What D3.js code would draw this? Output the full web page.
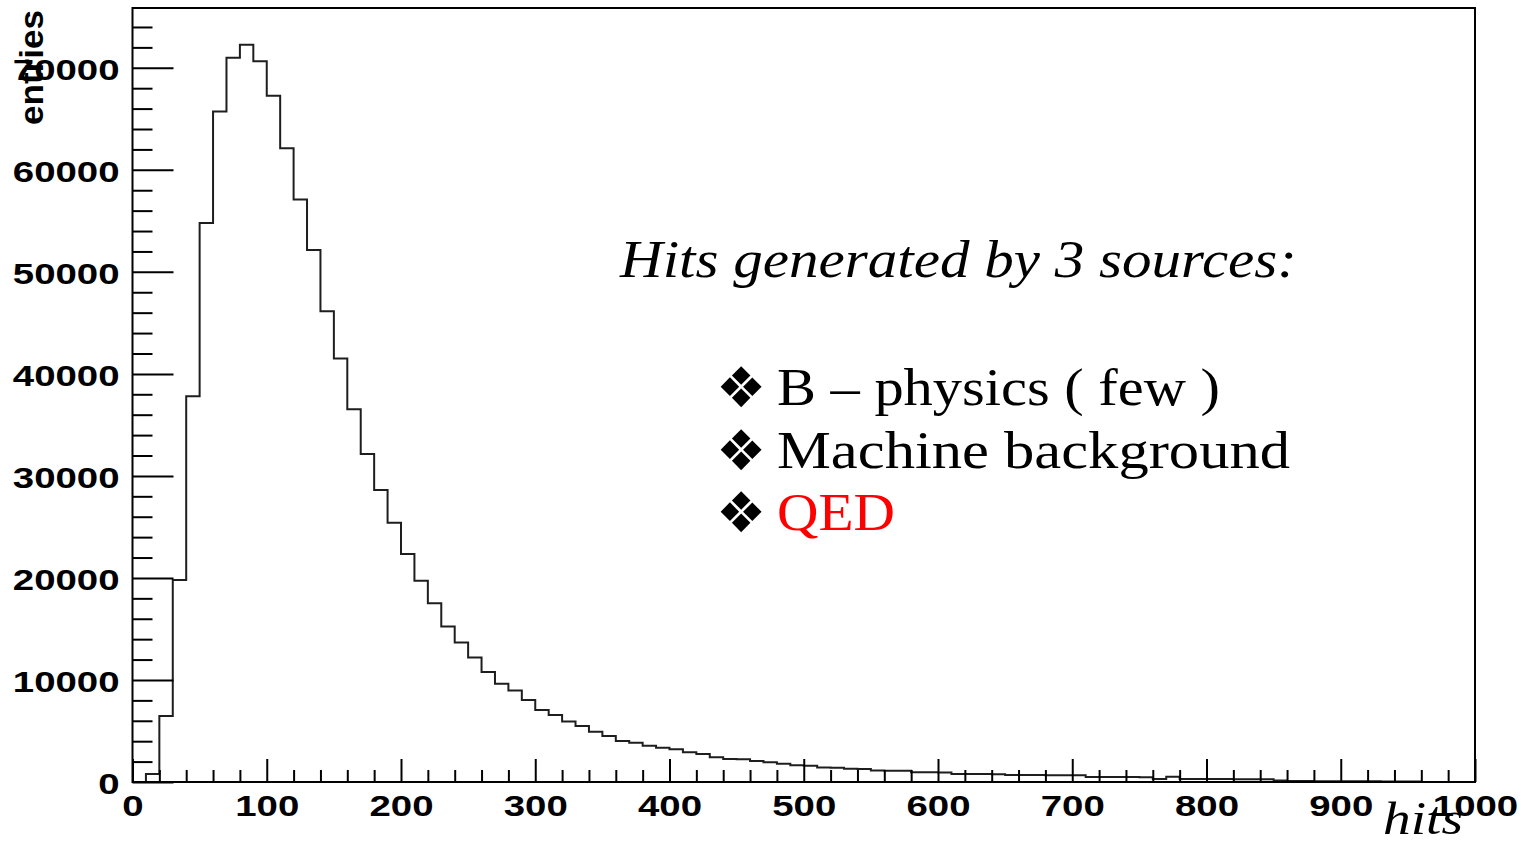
<!DOCTYPE html>
<html>
<head>
<meta charset="utf-8">
<script src="https://cdn.jsdelivr.net/npm/d3@7"></script>
<style>
  html, body { margin: 0; padding: 0; background: #ffffff; }
  svg { display: block; }
</style>
</head>
<body>
<svg id="chart" width="1521" height="842"></svg>
<script>
// ---- data (bins of width 10 hits) ----
const binLow = [0,10,20,30,40,50,60,70,80,90,
  100,110,120,130,140,150,160,170,180,190,
  200,210,220,230,240,250,260,270,280,290,
  300,310,320,330,340,350,360,370,380,390,
  400,410,420,430,440,450,460,470,480,490,
  500,510,520,530,540,550,560,570,580,590,
  600,610,620,630,640,650,660,670,680,690,
  700,710,720,730,740,750,760,770,780,790,
  800,810,820,830,840,850,860,870,880,890,
  900,910,920,930,940,950];
const binWidth = 10;
const entries = [0,780,6460,19800,37800,54780,65720,70980,72250,70650,
  67260,62120,57100,52140,46150,41500,36530,32150,28630,25400,
  22350,19720,17520,15250,13680,12210,10770,9630,8980,8030,
  7050,6560,5940,5480,4930,4510,4020,3850,3560,3360,
  3200,2910,2740,2420,2250,2220,2060,1930,1790,1640,
  1600,1420,1400,1290,1270,1130,1110,1100,960,950,
  940,790,780,780,770,690,680,680,670,660,
  650,490,490,480,480,470,300,520,300,300,
  290,290,280,280,260,150,90,90,80,80,
  80,70,70,60,60,60];
const xTickLabels = [0,100,200,300,400,500,600,700,800,900,1000];
const yTickLabels = [0,10000,20000,30000,40000,50000,60000,70000];
const xTitle = "hits";
const yTitle = "entries";
const noteTitle = "Hits generated by 3 sources:";
const noteItems = ["B \u2013 physics ( few )", "Machine background", "QED"];
const noteColors = ["#000000", "#000000", "#ff0000"];

(function draw() {
  const svg = d3.select("#chart");
  const pLeft = 132.5, pRight = 1475, pTop = 8, pBottom = 782;
  const x = d3.scaleLinear().domain([0, 1000]).range([pLeft, pRight]);
  const y = d3.scaleLinear().domain([0, 75860]).range([pBottom, pTop]);
  const stretch = 1.28;

  // histogram outline
  const pts = binLow.map((b, i) => [b, entries[i]]);
  const lastEdge = binLow[binLow.length - 1] + binWidth;
  pts.push([lastEdge, entries[entries.length - 1]]);
  pts.push([lastEdge, 0]);
  const line = d3.line().x(d => x(d[0])).y(d => y(d[1])).curve(d3.curveStepAfter);
  svg.append("path").attr("d", line(pts))
    .attr("fill", "none").attr("stroke", "#1e1e1e").attr("stroke-width", 2);

  // axes
  const xAxis = svg.append("g").attr("transform", `translate(0,${pBottom})`)
    .call(d3.axisBottom(x).tickValues(xTickLabels).tickSize(-23).tickPadding(13).tickFormat(d => d));
  const xMinor = svg.append("g").attr("transform", `translate(0,${pBottom})`)
    .call(d3.axisBottom(x).tickValues(d3.range(0, 1001, 20).filter(v => v % 100 !== 0)).tickSize(-12).tickFormat(""));
  const yAxis = svg.append("g").attr("transform", `translate(${pLeft},0)`)
    .call(d3.axisLeft(y).tickValues(yTickLabels).tickSize(-41).tickPadding(13).tickFormat(d => d));
  const yMinor = svg.append("g").attr("transform", `translate(${pLeft},0)`)
    .call(d3.axisLeft(y).tickValues(d3.range(0, 75860, 2000).filter(v => v % 10000 !== 0)).tickSize(-20).tickFormat(""));

  [xAxis, xMinor, yAxis, yMinor].forEach(g => {
    g.select(".domain").remove();
    g.selectAll("line").attr("stroke", "#000").attr("stroke-width", 2);
  });
  xAxis.selectAll("text")
    .attr("font-family", "'Liberation Sans', Arial, sans-serif")
    .attr("font-weight", "bold").attr("font-size", 30).attr("fill", "#000")
    .attr("transform", `scale(${stretch},1)`);
  yAxis.selectAll("text")
    .attr("font-family", "'Liberation Sans', Arial, sans-serif")
    .attr("font-weight", "bold").attr("font-size", 30).attr("fill", "#000")
    .attr("x", -13 / stretch).attr("dy", "0.38em")
    .attr("transform", `scale(${stretch},1)`);

  // frame
  svg.append("rect").attr("x", pLeft).attr("y", pTop)
    .attr("width", pRight - pLeft).attr("height", pBottom - pTop)
    .attr("fill", "none").attr("stroke", "#000").attr("stroke-width", 2);

  // axis titles
  svg.append("text").text(yTitle)
    .attr("transform", "translate(43,10) rotate(-90)")
    .attr("text-anchor", "end")
    .attr("font-family", "'Liberation Sans', Arial, sans-serif")
    .attr("font-weight", "bold").attr("font-size", 34)
    .attr("textLength", 115).attr("lengthAdjust", "spacingAndGlyphs");

  svg.append("text").text(xTitle)
    .attr("x", 1383).attr("y", 834)
    .attr("font-family", "'Liberation Serif', 'Times New Roman', serif")
    .attr("font-style", "italic").attr("font-size", 46)
    .attr("textLength", 80).attr("lengthAdjust", "spacingAndGlyphs");

  // annotation
  svg.append("text").text(noteTitle)
    .attr("x", 620).attr("y", 277)
    .attr("font-family", "'Liberation Serif', 'Times New Roman', serif")
    .attr("font-style", "italic").attr("font-size", 52)
    .attr("textLength", 677).attr("lengthAdjust", "spacingAndGlyphs");

  const itemWidths = [443, 513, 118];
  const itemBase = [405, 468, 530];
  noteItems.forEach((t, i) => {
    svg.append("text").text("\u2756")
      .attr("x", 716).attr("y", itemBase[i] + 2)
      .attr("font-family", "'DejaVu Sans', sans-serif")
      .attr("font-size", 56).attr("fill", "#000");
    svg.append("text").text(t)
      .attr("x", 777).attr("y", itemBase[i])
      .attr("font-family", "'Liberation Serif', 'Times New Roman', serif")
      .attr("font-size", 52).attr("fill", noteColors[i])
      .attr("textLength", itemWidths[i]).attr("lengthAdjust", "spacingAndGlyphs");
  });
})();
</script>
</body>
</html>
